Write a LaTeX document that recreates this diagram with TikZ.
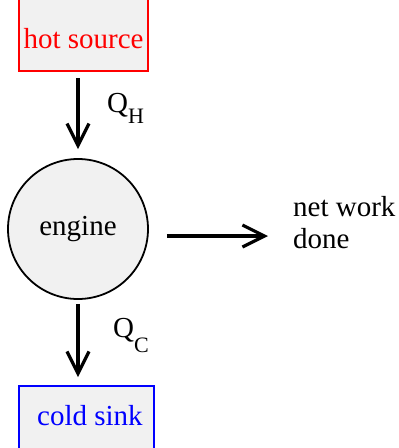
\documentclass[tikz,border=0pt]{standalone}
\usepackage{fontspec}
\setmainfont{Liberation Serif}
\usetikzlibrary{arrows.meta}
\definecolor{boxfill}{HTML}{F1F1F1}
\tikzset{
  big/.style={font=\fontsize{29}{32}\selectfont},
  reservoir/.style={draw=#1, text=#1, fill=boxfill, line width=2pt, inner sep=0pt, big, anchor=base},
  heat/.style={line width=3.2pt, -{Straight Barb[length=22pt,width=22pt,line width=3.2pt]}},
  lbl/.style={big, inner sep=0pt}
}
\begin{document}
\begin{tikzpicture}[x=1pt,y=-1pt]
\useasboundingbox (0,0) rectangle (399,448);
\clip (0,0) rectangle (399,448);
\node[reservoir=red, minimum width=129pt, text height=63pt, text depth=23pt] (hot) at (83.5,48) {hot source};
\node[reservoir=blue, minimum width=135pt, text height=39pt, text depth=40pt] (cold) at (86.5,425) {\hspace*{7pt}cold sink};
\node[draw=black, fill=boxfill, circle, line width=1.8pt, minimum size=140pt, inner sep=0pt, big] (engine) at (78,229) {engine};
\node[lbl, align=left, anchor=west] (work) at (293,223) {net work\\done};
\node[lbl, anchor=base west] (qh) at (107,112) {Q\raisebox{-11pt}{\fontsize{22}{22}\selectfont H}};
\node[lbl, anchor=base west] (qc) at (113,337) {Q\raisebox{-15pt}{\fontsize{22}{22}\selectfont C}};
\draw[heat, shorten <=6pt, shorten >=9pt] (hot.south -| engine.north) -- (engine.north);
\draw[heat, shorten <=4pt, shorten >=8pt] (engine.south) -- (cold.north -| engine.south);
\coordinate (wfrom) at ([yshift=-7pt]engine.east);
\draw[heat, shorten <=18pt, shorten >=25pt] (wfrom) -- (wfrom -| work.west);
\end{tikzpicture}
\end{document}
